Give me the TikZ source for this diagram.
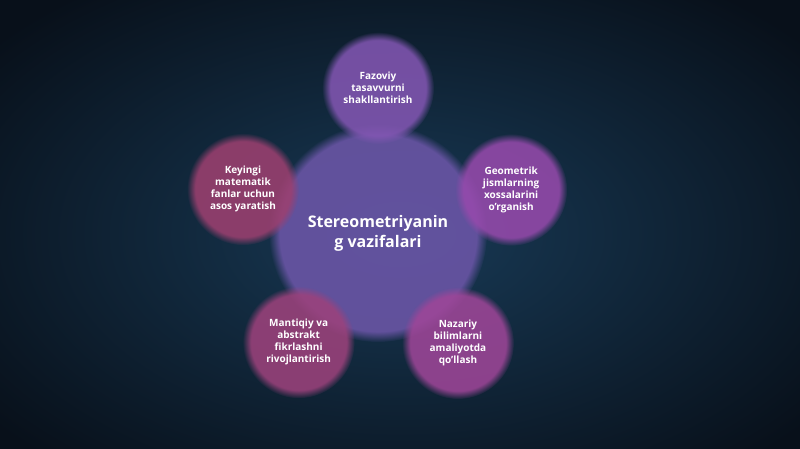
\documentclass[tikz,border=0pt]{standalone}
\usepackage{xcolor}
\usepackage{fontspec}
\setmainfont{Open Sans}
\usepackage{tikz}
\usetikzlibrary{shapes.geometric, fadings}
\definecolor{bgdark}{RGB}{8,16,26}
\definecolor{bgmid}{RGB}{24,58,86}
\definecolor{hubcol}{RGB}{108,86,168}
\definecolor{violet}{RGB}{130,86,178}
\definecolor{raspberry}{RGB}{156,64,112}
\definecolor{orchid}{RGB}{150,74,172}
\definecolor{plum}{RGB}{156,66,124}
\definecolor{fuchsia}{RGB}{158,70,152}
\tikzset{
    hub/.style={circle, minimum size=218pt, inner sep=0pt, text centered, align=center, fill=hubcol, fill opacity=0.88, text opacity=1, text=white, path fading=circle with fuzzy edge 10 percent, font=\bfseries\fontsize{16}{20}\selectfont},
    task/.style={circle, minimum size=112pt, inner sep=0pt, text centered, align=center, fill opacity=0.88, text opacity=1, text=white, path fading=circle with fuzzy edge 15 percent, font=\bfseries\fontsize{10}{12}\selectfont}
}

\begin{document}
\begin{tikzpicture}[x=1pt, y=1pt]
    \useasboundingbox (0,0) rectangle (800,449);
    % Background
    \shade[inner color=bgmid, outer color=bgdark] (-120,-90) rectangle (920,520);
    % Central goal
    \coordinate (mid) at (378,216);
    \node[hub] (goal) at (mid) {Stereometriyanin\\g vazifalari};
    % Tasks
    \node[task, fill=violet] (space) at ([shift={(90:145pt)}]goal.center) {Fazoviy\\tasavvurni\\shakllantirish};
    \node[task, fill=raspberry] (basis) at ([shift={(162:142pt)}]goal.center) {Keyingi\\matematik\\fanlar uchun\\asos yaratish};
    \node[task, fill=orchid] (solids) at ([shift={(18:140pt)}]goal.center) {Geometrik\\jismlarning\\xossalarini\\o'rganish};
    \node[task, fill=plum] (logic) at ([shift={(234:135pt)}]goal.center) {Mantiqiy va\\abstrakt\\fikrlashni\\rivojlantirish};
    \node[task, fill=fuchsia] (practice) at ([shift={(306:136pt)}]goal.center) {Nazariy\\bilimlarni\\amaliyotda\\qo'llash};
\end{tikzpicture}
\end{document}
